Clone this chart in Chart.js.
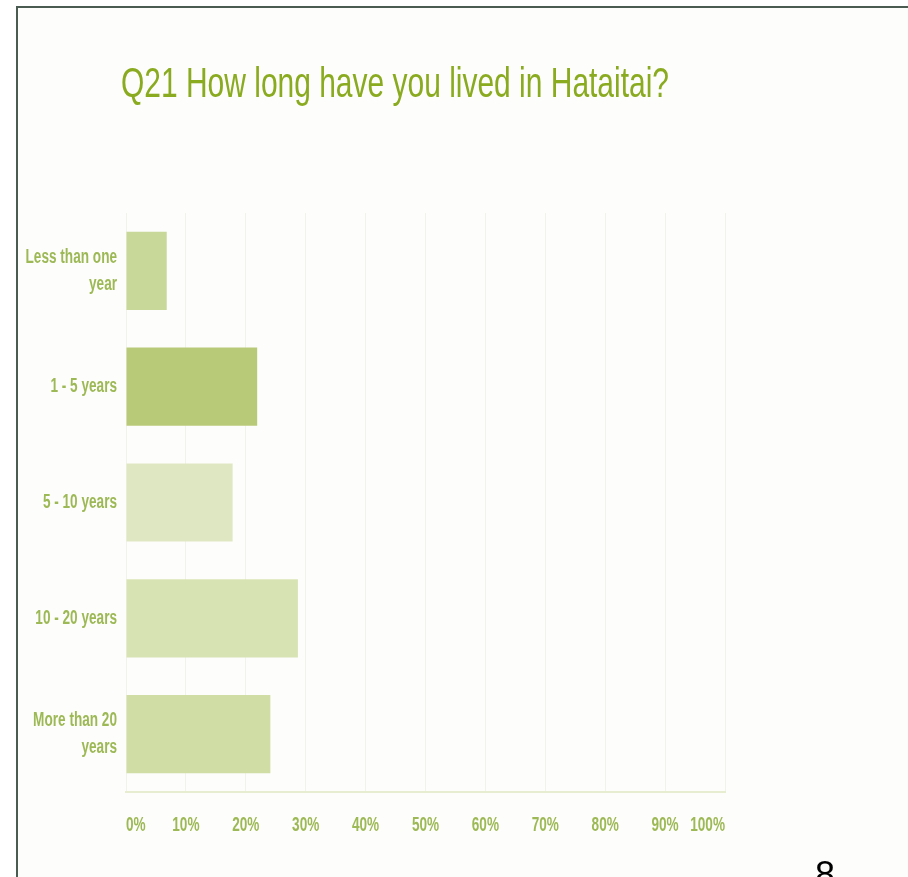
<!DOCTYPE html>
<html>
<head>
<meta charset="utf-8">
<title>Q21 How long have you lived in Hataitai?</title>
<script src="https://cdn.jsdelivr.net/npm/chart.js@4.4.1/dist/chart.umd.min.js"></script>
<style>
  html, body { margin: 0; padding: 0; background: #ffffff; }
  #wrap { position: relative; width: 908px; height: 877px; overflow: hidden; }
</style>
</head>
<body>
<div id="wrap"><canvas id="chartQ21" width="908" height="877"></canvas></div>
<script>
// Survey answers, share of respondents per group
const titleText = 'Q21 How long have you lived in Hataitai?';
const pageNumber = '8';
const categories = [['Less than one', 'year'], '1 - 5 years', '5 - 10 years', '10 - 20 years', ['More than 20', 'years']];
const percentages = [6.8, 21.9, 17.8, 28.7, 24.1];
const barColors = ['#c8d898', '#b8ca78', '#dfe7c2', '#d8e3b4', '#d0dda4'];
const tickValues = [0, 10, 20, 30, 40, 50, 60, 70, 80, 90, 100];

const labelColor = '#9db955';
const labelFont = '"Liberation Sans", Arial, sans-serif';
const labelSqueeze = 0.68;   // no condensed bold face installed, so narrow it by hand

// slide background, outline, heading and page number
const slideFrame = {
    id: 'slideFrame',
    beforeDraw(chart) {
        const c = chart.ctx;
        const w = chart.width, h = chart.height;
        c.save();
        c.fillStyle = '#ffffff';
        c.fillRect(0, 0, w, h);
        c.fillStyle = '#fdfdfb';
        c.fillRect(17, 7, w, h);
        c.fillStyle = '#4a5c52';
        c.fillRect(16, 6, 2, h);
        c.fillRect(16, 6, w, 2);

        c.font = '42px "Liberation Sans", Arial, sans-serif';
        c.textBaseline = 'alphabetic';
        c.textAlign = 'left';
        const tw = c.measureText(titleText).width;
        c.translate(121, 97);
        c.scale(548 / tw, 1);
        c.fillStyle = '#8aab1f';
        c.fillText(titleText, 0, 0);
        c.restore();

        c.save();
        c.font = '36px "Liberation Sans", Arial, sans-serif';
        c.fillStyle = '#000000';
        c.textAlign = 'left';
        c.textBaseline = 'alphabetic';
        c.fillText(pageNumber, 815, 887);
        c.restore();
    }
};

// redraw the axis labels where the scales placed them, squeezed sideways
const narrowTicks = {
    id: 'narrowTicks',
    afterDraw(chart) {
        const c = chart.ctx;
        ['x', 'y'].forEach(id => {
            const scale = chart.scales[id];
            scale.getLabelItems().forEach(item => {
                const o = item.options;
                const lines = Array.isArray(item.label) ? item.label : [item.label];
                c.save();
                c.translate(o.translation[0], o.translation[1]);
                c.scale(labelSqueeze, 1);
                c.font = item.font.string;
                c.fillStyle = labelColor;
                c.textAlign = o.textAlign;
                c.textBaseline = o.textBaseline;
                lines.forEach((ln, i) => c.fillText(ln, 0, item.textOffset + i * item.font.lineHeight));
                c.restore();
            });
        });
    }
};

const ctx = document.getElementById('chartQ21').getContext('2d');

new Chart(ctx, {
    type: 'bar',
    data: {
        labels: categories,
        datasets: [{
            data: percentages,
            backgroundColor: barColors,
            borderWidth: 0,
            categoryPercentage: 1,
            barPercentage: 0.675
        }]
    },
    plugins: [slideFrame, narrowTicks],
    options: {
        indexAxis: 'y',
        responsive: false,
        animation: false,
        layout: {
            padding: { left: 10, top: 213, right: 183, bottom: 0 }
        },
        scales: {
            x: {
                min: 0,
                max: 100,
                afterFit(scale) { scale.height = 85; },
                afterBuildTicks(scale) {
                    scale.ticks = tickValues.map(v => ({ value: v }));
                },
                grid: {
                    color: '#f1f3ea',
                    lineWidth: 1,
                    drawTicks: false
                },
                border: { color: '#e6edd0', width: 2 },
                ticks: {
                    align: 'inner',
                    padding: 21,
                    maxRotation: 0,
                    autoSkip: false,
                    color: 'rgba(0,0,0,0)',
                    font: { family: labelFont, size: 20, weight: 'bold' },
                    callback: v => v + '%'
                }
            },
            y: {
                afterFit(scale) { scale.width = 116; },
                grid: { display: false, drawTicks: false },
                border: { display: false },
                ticks: {
                    padding: 9,
                    color: 'rgba(0,0,0,0)',
                    font: { family: labelFont, size: 20, weight: 'bold', lineHeight: 1.35 }
                }
            }
        },
        plugins: {
            legend: { display: false },
            title: { display: false },
            tooltip: { enabled: false }
        }
    }
});
</script>
</body>
</html>
